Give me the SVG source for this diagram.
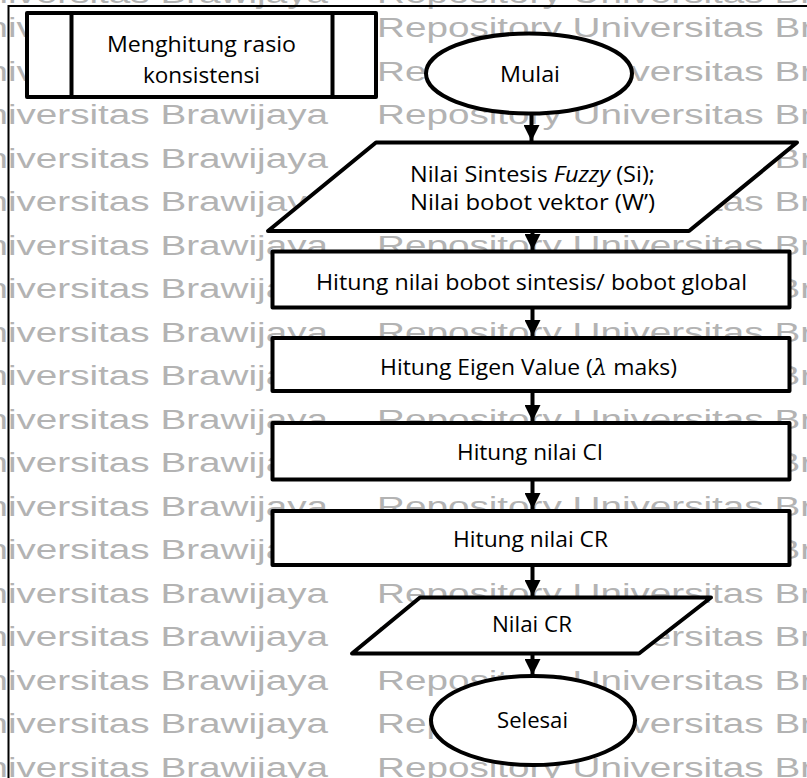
<svg xmlns="http://www.w3.org/2000/svg" xmlns:xlink="http://www.w3.org/1999/xlink" width="807" height="778" viewBox="0 0 807 778">
  <style>
    .wm { font-family: "Liberation Sans", Arial, sans-serif; font-size: 27px; fill: #b3b3b3; }
    .node { fill: #ffffff; stroke: #000000; stroke-width: 4; stroke-linejoin: round; }
    .label { font-family: "Open Sans", "Noto Sans", sans-serif; font-size: 22px; fill: #000000; }
    .edge { stroke: #000000; stroke-width: 4; fill: none; }
    .frame { stroke: #000000; stroke-width: 2; fill: none; }
  </style>
  <defs>
    <text id="wm" class="wm" x="0" y="0" textLength="565" lengthAdjust="spacingAndGlyphs">Repository Universitas Brawijaya</text>
    <marker id="arrow" markerUnits="userSpaceOnUse" markerWidth="16" markerHeight="16" viewBox="0 0 14 14" refX="14" refY="7" orient="auto">
      <path d="M0,0 L14,7 L0,14 Z" fill="#000000"/>
    </marker>
  </defs>

  <rect x="0" y="0" width="807" height="778" fill="#ffffff"/>

  <!-- background watermark rows -->
  <g id="watermark">
    <use xlink:href="#wm" x="-237" y="3"/><use xlink:href="#wm" x="377" y="3"/>
    <use xlink:href="#wm" x="-237" y="37"/><use xlink:href="#wm" x="377" y="37"/>
    <use xlink:href="#wm" x="-237" y="80.5"/><use xlink:href="#wm" x="377" y="80.5"/>
    <use xlink:href="#wm" x="-237" y="124"/><use xlink:href="#wm" x="377" y="124"/>
    <use xlink:href="#wm" x="-237" y="167.5"/><use xlink:href="#wm" x="377" y="167.5"/>
    <use xlink:href="#wm" x="-237" y="211"/><use xlink:href="#wm" x="377" y="211"/>
    <use xlink:href="#wm" x="-237" y="254.5"/><use xlink:href="#wm" x="377" y="254.5"/>
    <use xlink:href="#wm" x="-237" y="298"/><use xlink:href="#wm" x="377" y="298"/>
    <use xlink:href="#wm" x="-237" y="341.5"/><use xlink:href="#wm" x="377" y="341.5"/>
    <use xlink:href="#wm" x="-237" y="385"/><use xlink:href="#wm" x="377" y="385"/>
    <use xlink:href="#wm" x="-237" y="428.5"/><use xlink:href="#wm" x="377" y="428.5"/>
    <use xlink:href="#wm" x="-237" y="472"/><use xlink:href="#wm" x="377" y="472"/>
    <use xlink:href="#wm" x="-237" y="515.5"/><use xlink:href="#wm" x="377" y="515.5"/>
    <use xlink:href="#wm" x="-237" y="559"/><use xlink:href="#wm" x="377" y="559"/>
    <use xlink:href="#wm" x="-237" y="602.5"/><use xlink:href="#wm" x="377" y="602.5"/>
    <use xlink:href="#wm" x="-237" y="646"/><use xlink:href="#wm" x="377" y="646"/>
    <use xlink:href="#wm" x="-237" y="689.5"/><use xlink:href="#wm" x="377" y="689.5"/>
    <use xlink:href="#wm" x="-237" y="733"/><use xlink:href="#wm" x="377" y="733"/>
    <use xlink:href="#wm" x="-237" y="776.5"/><use xlink:href="#wm" x="377" y="776.5"/>
  </g>

  <!-- page frame -->
  <path class="frame" d="M8.5,778 L8.5,6 L807,6"/>

  <!-- connectors -->
  <g id="connectors">
    <line class="edge" x1="531.5" y1="114" x2="531.5" y2="141" marker-end="url(#arrow)"/>
    <line class="edge" x1="532.5" y1="232" x2="532.5" y2="250" marker-end="url(#arrow)"/>
    <line class="edge" x1="532.5" y1="308" x2="532.5" y2="336" marker-end="url(#arrow)"/>
    <line class="edge" x1="532.5" y1="392" x2="532.5" y2="421" marker-end="url(#arrow)"/>
    <line class="edge" x1="532.5" y1="480" x2="532.5" y2="509" marker-end="url(#arrow)"/>
    <line class="edge" x1="532.5" y1="566" x2="532.5" y2="596" marker-end="url(#arrow)"/>
    <line class="edge" x1="532.5" y1="654" x2="532.5" y2="675" marker-end="url(#arrow)"/>
  </g>

  <!-- predefined process: title -->
  <g id="title">
    <rect class="node" x="27" y="13" width="349" height="84"/>
    <line class="node" x1="71.5" y1="13" x2="71.5" y2="97"/>
    <line class="node" x1="332.5" y1="13" x2="332.5" y2="97"/>
    <text class="label" x="201.5" y="52" text-anchor="middle" textLength="189" lengthAdjust="spacingAndGlyphs">Menghitung rasio</text>
    <text class="label" x="201.5" y="83" text-anchor="middle" textLength="117" lengthAdjust="spacingAndGlyphs">konsistensi</text>
  </g>

  <g id="start">
    <ellipse class="node" cx="529" cy="73.5" rx="103" ry="40"/>
    <text class="label" x="530" y="82" text-anchor="middle" textLength="60" lengthAdjust="spacingAndGlyphs">Mulai</text>
  </g>

  <g id="input">
    <polygon class="node" points="376,142.5 797,142.5 689,231 268,231"/>
    <text class="label" x="532.5" y="182" text-anchor="middle" textLength="245" lengthAdjust="spacingAndGlyphs">Nilai Sintesis <tspan font-style="italic">Fuzzy</tspan> (Si);</text>
    <text class="label" x="532.5" y="210" text-anchor="middle" textLength="245" lengthAdjust="spacingAndGlyphs">Nilai bobot vektor (W’)</text>
  </g>

  <g id="global-weight">
    <rect class="node" x="272.5" y="251.5" width="517" height="56"/>
    <text class="label" x="531.5" y="290" text-anchor="middle" textLength="431" lengthAdjust="spacingAndGlyphs">Hitung nilai bobot sintesis/ bobot global</text>
  </g>

  <g id="eigen">
    <rect class="node" x="272.5" y="338" width="517" height="53"/>
    <text class="label" x="528.5" y="375" text-anchor="middle" textLength="297" lengthAdjust="spacingAndGlyphs">Hitung Eigen Value (<tspan font-family="DejaVu Serif, serif" font-style="italic">λ</tspan> maks)</text>
  </g>

  <g id="ci">
    <rect class="node" x="272.5" y="423" width="517" height="56.5"/>
    <text class="label" x="530" y="460" text-anchor="middle" textLength="146" lengthAdjust="spacingAndGlyphs">Hitung nilai CI</text>
  </g>

  <g id="cr">
    <rect class="node" x="272.5" y="511" width="517" height="54"/>
    <text class="label" x="530.5" y="547" text-anchor="middle" textLength="155" lengthAdjust="spacingAndGlyphs">Hitung nilai CR</text>
  </g>

  <g id="output">
    <polygon class="node" points="420,597.5 711,597.5 639,653.5 352,653.5"/>
    <text class="label" x="532" y="632" text-anchor="middle" textLength="80" lengthAdjust="spacingAndGlyphs">Nilai CR</text>
  </g>

  <g id="end">
    <ellipse class="node" cx="533" cy="720.5" rx="102" ry="44.5"/>
    <text class="label" x="532.5" y="728" text-anchor="middle" textLength="71" lengthAdjust="spacingAndGlyphs">Selesai</text>
  </g>
</svg>
